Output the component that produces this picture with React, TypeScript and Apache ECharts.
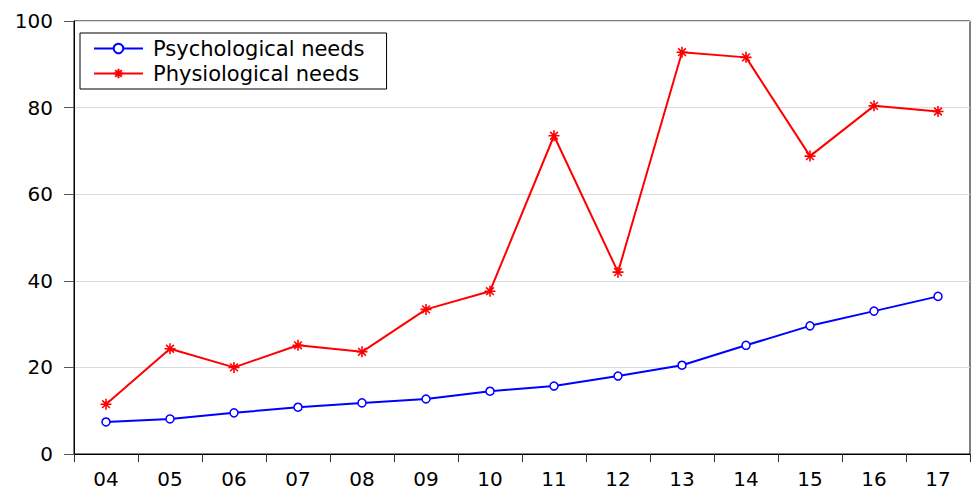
import React, { useEffect, useRef } from "react";
import * as echarts from "echarts";

const years = ["04", "05", "06", "07", "08", "09", "10", "11", "12", "13", "14", "15", "16", "17"];
const psychological = [7.4, 8.1, 9.5, 10.8, 11.8, 12.7, 14.5, 15.7, 18.0, 20.5, 25.1, 29.6, 33.0, 36.4];
const physiological = [11.5, 24.3, 20.0, 25.1, 23.6, 33.4, 37.6, 73.5, 42.0, 92.8, 91.6, 68.8, 80.4, 79.1];
const seriesNames = ["Psychological needs", "Physiological needs"];

const FONT = "DejaVu Sans";
const ASTERISK = "path://M0,5L10,5M5,0L5,10M1.5,1.5L8.5,8.5M8.5,1.5L1.5,8.5";

export default function App() {
  const ref = useRef<HTMLDivElement>(null);
  useEffect(() => {
    if (!ref.current) return;
    const chart = echarts.init(ref.current, null, { renderer: "svg" });
    chart.setOption({
      animation: false,
      backgroundColor: "#fff",
      grid: {
        left: 74,
        right: 3,
        top: 21,
        bottom: 38,
        show: true,
        borderColor: "#000",
        borderWidth: 1,
        backgroundColor: "transparent",
      },
      legend: {
        orient: "vertical",
        left: 80,
        top: 33,
        padding: [5, 22, 5, 13],
        itemGap: 4,
        itemWidth: 49,
        itemHeight: 12,
        borderColor: "#000",
        borderWidth: 1,
        data: seriesNames,
        textStyle: { fontFamily: FONT, fontSize: 21, color: "#000", padding: [0, 0, 0, 5] },
      },
      xAxis: {
        type: "category",
        data: years,
        boundaryGap: true,
        axisLine: { lineStyle: { color: "#000", width: 1 } },
        axisTick: { show: true, inside: false, length: 8, lineStyle: { color: "#333" } },
        axisLabel: { fontFamily: FONT, fontSize: 20, color: "#000", margin: 15 },
        splitLine: { show: false },
      },
      yAxis: {
        type: "value",
        min: 0,
        max: 100,
        interval: 20,
        axisLine: { show: true, lineStyle: { color: "#000", width: 1 } },
        axisTick: { show: true, inside: false, length: 10, lineStyle: { color: "#555" } },
        axisLabel: { fontFamily: FONT, fontSize: 20, color: "#000", margin: 21 },
        splitLine: { show: true, lineStyle: { color: "#dcdcdc", width: 1 } },
      },
      series: [
        {
          name: seriesNames[0],
          type: "line",
          data: psychological,
          symbol: "circle",
          symbolSize: 8,
          showAllSymbol: true,
          lineStyle: { color: "#0000ff", width: 2 },
          itemStyle: { color: "#ffffff", borderColor: "#0000ff", borderWidth: 1.5 },
          z: 3,
        },
        {
          name: seriesNames[1],
          type: "line",
          data: physiological,
          symbol: ASTERISK,
          symbolSize: 11,
          showAllSymbol: true,
          lineStyle: { color: "#ff0000", width: 2 },
          itemStyle: { color: "#ff0000", borderColor: "#ff0000", borderWidth: 1.6 },
          z: 3,
        },
      ],
    });
    return () => chart.dispose();
  }, []);
  return <div ref={ref} style={{ width: 973, height: 492, position: "absolute", left: 0, top: 0 }} />;
}
